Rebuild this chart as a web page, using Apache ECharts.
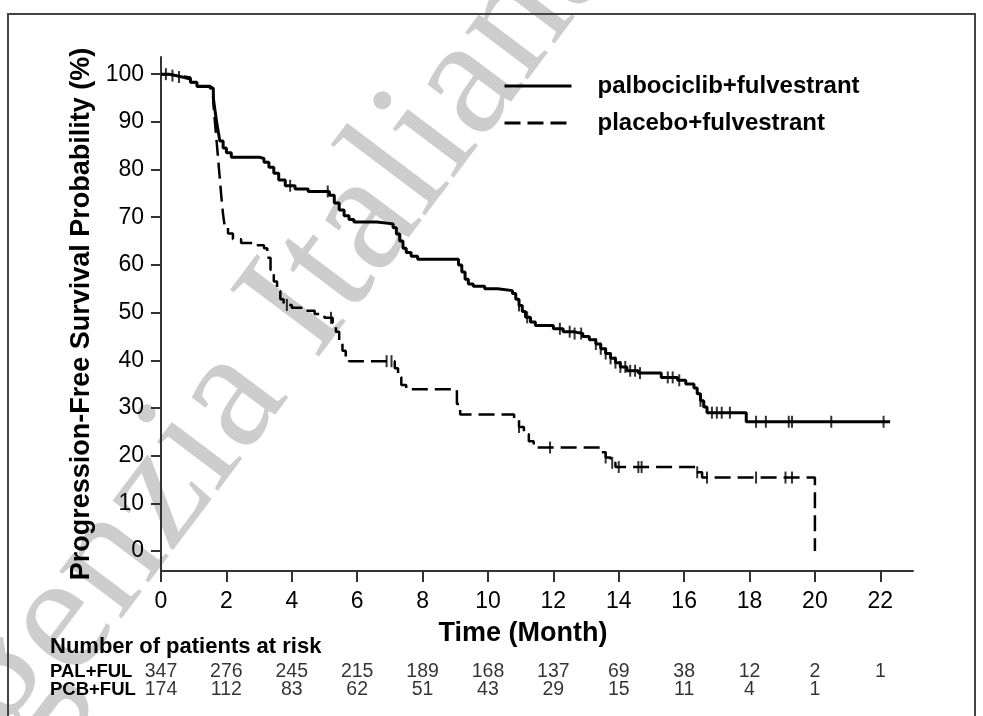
<!DOCTYPE html>
<html><head><meta charset="utf-8">
<script src="https://cdn.jsdelivr.net/npm/echarts@6/dist/echarts.min.js"></script>
<style>html,body{margin:0;padding:0;background:#fff}#c{width:983px;height:716px}</style>
</head><body><div id="c"></div>
<script>
// ---- data ----
const seriesNames = ['palbociclib+fulvestrant', 'placebo+fulvestrant'];
const xTicks = [0, 2, 4, 6, 8, 10, 12, 14, 16, 18, 20, 22];
const yTicks = [0, 10, 20, 30, 40, 50, 60, 70, 80, 90, 100];
const palCurve = [[0,100],[0.25,99.7],[0.45,99.4],[0.65,99.0],[0.9,98.3],[1.1,97.4],[1.5,97.0],[1.6,95.0],[1.65,92.5],[1.7,90],[1.75,88],[1.8,86],[1.9,84.5],[2.0,83.5],[2.15,82.6],[3.0,82.3],[3.15,81.5],[3.3,80.5],[3.45,79.2],[3.6,77.8],[3.8,76.6],[4.1,75.9],[4.5,75.4],[5.15,74.6],[5.3,73],[5.45,71.5],[5.6,70.3],[5.75,69.5],[5.9,69.0],[6.6,68.6],[7.1,67.8],[7.2,66.5],[7.3,65],[7.4,63.5],[7.5,62.6],[7.65,61.8],[7.85,61.2],[9.1,60],[9.2,58.5],[9.3,57],[9.4,56],[9.55,55.5],[9.9,55.0],[10.3,54.6],[10.75,54.0],[10.85,52.8],[10.95,51.5],[11.05,50.2],[11.15,49],[11.3,48],[11.45,47.3],[12.0,46.6],[12.3,46.0],[12.6,45.6],[12.9,45.0],[13.1,44.3],[13.3,43.4],[13.45,42.4],[13.6,41.4],[13.75,40.4],[13.9,39.5],[14.05,38.6],[14.25,37.8],[14.6,37.3],[15.3,36.4],[15.8,35.8],[16.05,35.0],[16.3,34.2],[16.4,33],[16.5,31.5],[16.6,30.2],[16.7,29.0],[17.9,27.1],[22.3,27.1]];
const pcbCurve = [[0,100],[0.25,99.7],[0.5,99.3],[0.9,98.3],[1.1,97.5],[1.5,97.0],[1.6,94],[1.65,90],[1.7,86],[1.75,82],[1.8,78],[1.85,74],[1.9,70.5],[1.95,68],[2.05,66.6],[2.2,65.4],[2.45,64.6],[2.9,64.1],[3.15,63.5],[3.25,61.5],[3.35,59],[3.45,56.5],[3.55,54.5],[3.65,52.8],[3.75,51.6],[4.0,51.0],[4.4,50.4],[4.7,49.7],[5.0,48.9],[5.25,47.8],[5.35,46],[5.45,44],[5.55,42],[5.65,40.5],[5.75,39.8],[7.15,38.3],[7.25,36.5],[7.35,34.8],[7.5,33.9],[9.05,30.8],[9.15,28.6],[10.8,27.5],[10.95,26],[11.1,24.5],[11.25,23],[11.4,21.7],[13.45,20.7],[13.6,19.6],[13.75,18.5],[13.9,17.6],[16.35,16.5],[16.55,15.4],[20.0,0]];
const palCensorTimes = [0.15,0.35,0.55,3.95,5.1,10.95,11.2,12.2,12.5,12.65,12.85,13.3,13.45,13.6,13.75,13.9,14.05,14.2,14.35,14.5,14.65,15.5,15.65,15.85,16.5,16.85,17.0,17.15,17.4,18.2,18.5,19.2,19.3,20.5,22.1];
const pcbCensorTimes = [3.85,5.2,6.9,7.05,10.95,11.9,13.6,13.8,14.0,14.6,14.7,16.4,16.7,18.2,19.1,19.3];
const riskRows = ['PAL+FUL', 'PCB+FUL'];
const riskTimes = [0, 2, 4, 6, 8, 10, 12, 14, 16, 18, 20, 22];
const palRisk = [347, 276, 245, 215, 189, 168, 137, 69, 38, 12, 2, 1];
const pcbRisk = [174, 112, 83, 62, 51, 43, 29, 15, 11, 4, 1];

// ---- helpers ----
function stepAt(curve, t) {
  let v = curve[0][1];
  for (const p of curve) { if (p[0] <= t) v = p[1]; else break; }
  return v;
}
const FONT = '"Liberation Sans", Arial, sans-serif';
const riskData = [];
palRisk.forEach((n, i) => riskData.push([riskTimes[i], 0, n]));
pcbRisk.forEach((n, i) => riskData.push([riskTimes[i], 1, n]));

const chart = echarts.init(document.getElementById('c'), null, {renderer: 'canvas'});
chart.setOption({
  animation: false,
  backgroundColor: '#fff',
  textStyle: {fontFamily: FONT, color: '#000'},
  title: {
    text: 'Number of patients at risk', left: 50, top: 636, padding: 0,
    textStyle: {fontFamily: FONT, fontSize: 22, fontWeight: 'bold', color: '#000'}
  },
  legend: {
    data: [
      {name: seriesNames[0], lineStyle: {width: 3}},
      {name: seriesNames[1], lineStyle: {width: 3, type: [16, 7]}}
    ],
    orient: 'vertical', left: 503, top: 74, padding: 0,
    itemWidth: 67, itemHeight: 22, itemGap: 13,
    itemStyle: {opacity: 0, color: 'transparent', borderWidth: 0},
    lineStyle: {width: 3},
    textStyle: {fontFamily: FONT, fontSize: 24, fontWeight: 'bold', color: '#000', padding: [0, 0, 0, 21]}
  },
  graphic: [
    {type: 'text', x: -19, y: 872, rotation: 53 * Math.PI / 180, z: -1, silent: true,
     style: {text: 'Agenzia Italiana', fontSize: 170, fontFamily: '"Liberation Serif", "DejaVu Serif", serif', fill: '#cdcdcd', textVerticalAlign: 'bottom'}},
    {type: 'rect', z: 10, silent: true, shape: {x: 8, y: 14, width: 967, height: 720},
     style: {fill: 'none', stroke: '#444', lineWidth: 2}}
  ],
  grid: [
    {left: 161, right: 70, top: 57, bottom: 145, outerBoundsMode: 'none'},
    {left: 161, right: 70, top: 663, height: 36, outerBoundsMode: 'none'}
  ],
  xAxis: [
    {type: 'value', gridIndex: 0, min: 0, max: 23,
     name: 'Time (Month)', nameLocation: 'middle', nameGap: 49,
     nameTextStyle: {fontFamily: FONT, fontSize: 27, fontWeight: 'bold', color: '#000', padding: [0, 28, 0, 0]},
     axisLine: {show: true, onZero: false, lineStyle: {color: '#333', width: 2}},
     axisTick: {show: true, length: 11, customValues: xTicks, lineStyle: {color: '#333', width: 2}},
     axisLabel: {customValues: xTicks, fontFamily: FONT, fontSize: 23, color: '#000', margin: 19},
     splitLine: {show: false}},
    {type: 'value', gridIndex: 1, min: 0, max: 23, show: false}
  ],
  yAxis: [
    {type: 'value', gridIndex: 0, min: -4.2, max: 103.6,
     name: 'Progression-Free Survival Probability (%)', nameLocation: 'middle', nameGap: 61, nameRotate: 90,
     nameTextStyle: {fontFamily: FONT, fontSize: 27, fontWeight: 'bold', color: '#000'},
     axisLine: {show: true, onZero: false, lineStyle: {color: '#333', width: 2}},
     axisTick: {show: true, length: 10, customValues: yTicks, lineStyle: {color: '#333', width: 2}},
     axisLabel: {customValues: yTicks, fontFamily: FONT, fontSize: 23, color: '#000', margin: 17},
     splitLine: {show: false}},
    {type: 'category', gridIndex: 1, data: riskRows, inverse: true,
     axisLine: {show: false}, axisTick: {show: false}, splitLine: {show: false},
     axisLabel: {interval: 0, align: 'left', margin: 111, fontFamily: FONT, fontSize: 18.5, fontWeight: 'bold', color: '#000'}}
  ],
  series: [
    {name: seriesNames[0], type: 'line', step: 'end', data: palCurve, symbol: 'none', z: 4,
     lineStyle: {color: '#000', width: 3}, itemStyle: {color: '#000'}},
    {name: seriesNames[1], type: 'line', step: 'end', data: pcbCurve, symbol: 'none', z: 3,
     lineStyle: {color: '#000', width: 2.5, type: [16, 7]}, itemStyle: {color: '#000'}},
    {name: 'palCensor', type: 'scatter', symbol: 'rect', symbolSize: [2, 12], z: 5,
     itemStyle: {color: '#000'}, data: palCensorTimes.map(t => [t, stepAt(palCurve, t)])},
    {name: 'pcbCensor', type: 'scatter', symbol: 'rect', symbolSize: [2, 12], z: 5,
     itemStyle: {color: '#000'}, data: pcbCensorTimes.map(t => [t, stepAt(pcbCurve, t)])},
    {name: 'risk', type: 'scatter', xAxisIndex: 1, yAxisIndex: 1, symbolSize: 0,
     itemStyle: {color: 'transparent'}, data: riskData,
     label: {show: true, position: 'inside', formatter: p => String(p.data[2]),
             fontFamily: FONT, fontSize: 19.5, color: '#000'}}
  ]
});
</script></body></html>
